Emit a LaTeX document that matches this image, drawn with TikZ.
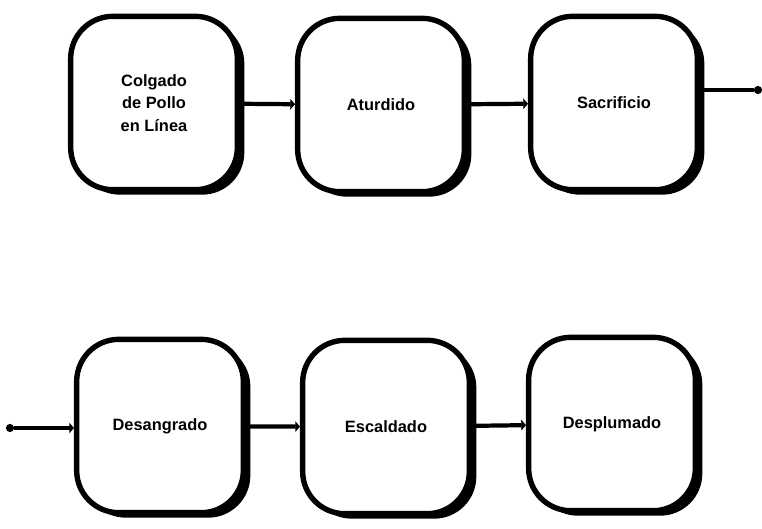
\documentclass[tikz,border=0pt]{standalone}
\usepackage{fontspec}
\setmainfont{Liberation Sans}
\usepackage{tikz}
\usetikzlibrary{arrows.meta,positioning}

\begin{document}
\begin{tikzpicture}[
  x=0.03cm, y=-0.03cm,
  etapa/.style={rectangle,rounded corners=36,draw=black,fill=white,line width=4.6pt,
    minimum width=5.0cm,minimum height=5.2cm,align=center,
    font=\fontsize{14}{19}\selectfont\bfseries},
  sombra/.style={rectangle,rounded corners=36,fill=black,
    minimum width=5.0cm,minimum height=5.2cm},
  flujo/.style={line width=3.6pt,-{Triangle[length=4pt,width=9pt]}},
  punta/.style={circle,fill=black,inner sep=0pt,minimum size=7pt}
]
  \useasboundingbox (0,0) rectangle (762,528);
  % sombras a la derecha y abajo
  \foreach \x/\y in {154/103, 381/105, 614/103, 160/426, 386/427, 612/424}
    \node[sombra] at (\x+7,\y+5) {};
  % etapas del proceso
  \node[etapa] (colgado)    at (154,103) {Colgado\\de Pollo\\en Línea};
  \node[etapa] (aturdido)   at (381,105) {Aturdido};
  \node[etapa] (sacrificio) at (614,103) {Sacrificio};
  \node[etapa] (desangrado) at (160,426) {Desangrado};
  \node[etapa] (escaldado)  at (386,427) {Escaldado};
  \node[etapa] (desplumado) at (612,424) {Desplumado};
  % salida y entrada entre filas
  \node[punta] (salida)  at (758,90)  {};
  \node[punta] (entrada) at (10,428)  {};
  % conectores
  \draw[flujo] (colgado) -- (aturdido);
  \draw[flujo] (aturdido) -- (sacrificio);
  \draw[line width=3.6pt] (sacrificio.east |- salida) -- (salida);
  \draw[flujo] (entrada) -- (desangrado.west |- entrada);
  \draw[flujo] (desangrado) -- (escaldado);
  \draw[flujo] (escaldado) -- (desplumado);
\end{tikzpicture}
\end{document}
